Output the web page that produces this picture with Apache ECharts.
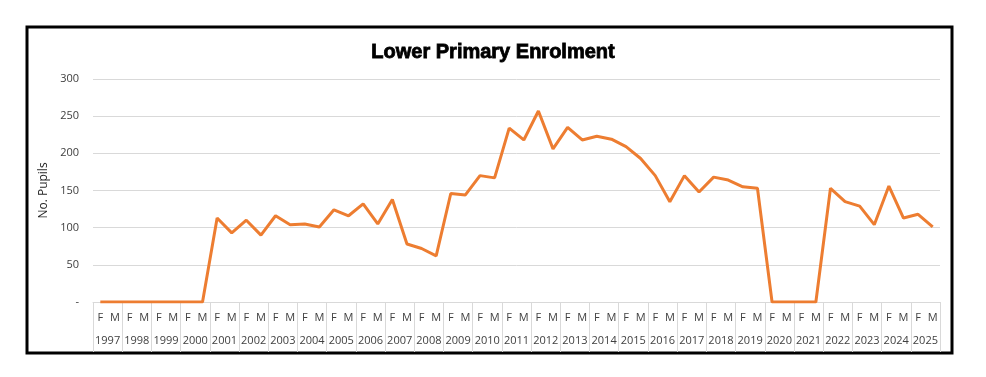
<!DOCTYPE html>
<html>
<head>
<meta charset="utf-8"/>
<title>Lower Primary Enrolment</title>
<script src="https://cdn.jsdelivr.net/npm/echarts@6/dist/echarts.min.js"></script>
<style>
  html, body { margin: 0; padding: 0; background: #fff; }
  #main { width: 986px; height: 377px; }
</style>
</head>
<body>
<div id="main"></div>
<script type="text/javascript">
// years, each split into F / M
var years = ['1997','1998','1999','2000','2001','2002','2003','2004','2005','2006',
             '2007','2008','2009','2010','2011','2012','2013','2014','2015','2016',
             '2017','2018','2019','2020','2021','2022','2023','2024','2025'];
var sexes = ['F', 'M'];
// pupils, in F,M order per year
var pupils = [0,0, 0,0, 0,0, 0,0, 113,93, 110,90, 116,104, 105,101, 124,116, 132,105,
              138,78, 72,62, 146,144, 170,167, 234,218, 257,206, 235,218, 223,219,
              209,193, 170,135, 170,148, 168,164, 155,153, 0,0, 0,0, 153,135,
              129,104, 156,113, 118,101];
var yTicks = [0, 50, 100, 150, 200, 250, 300];

var cats = [];
years.forEach(function (y) {
    sexes.forEach(function (s) { cats.push(s); });
});

var labelFont = { color: '#404040', fontSize: 11, fontFamily: 'Open Sans' };

var myChart = echarts.init(document.getElementById('main'));
var option = {
    animation: false,
    backgroundColor: '#fff',
    title: {
        text: 'Lower Primary Enrolment',
        left: 'center',
        top: 37,
        textStyle: {
            fontFamily: 'Liberation Sans', fontWeight: 'bold', fontSize: 20, color: '#000',
            textBorderColor: '#000', textBorderWidth: 0.8
        }
    },
    graphic: [{
        type: 'rect',
        shape: { x: 27, y: 27, width: 925, height: 326 },
        style: { fill: 'none', stroke: '#000', lineWidth: 3 },
        silent: true
    }],
    grid: { left: 93, right: 46, top: 79, bottom: 75 },
    xAxis: [{
        type: 'category',
        data: cats,
        boundaryGap: true,
        axisLine: { lineStyle: { color: '#d9d9d9' } },
        axisTick: { show: false },
        axisLabel: Object.assign({ interval: 0, margin: 10 }, labelFont)
    }, {
        type: 'category',
        data: years,
        position: 'bottom',
        boundaryGap: true,
        axisLine: { show: false },
        axisTick: { show: true, interval: 0, length: 50, lineStyle: { color: '#d9d9d9' } },
        axisLabel: Object.assign({ interval: 0, margin: 33 }, labelFont)
    }],
    yAxis: {
        type: 'value',
        min: yTicks[0],
        max: yTicks[yTicks.length - 1],
        interval: 50,
        name: 'No. Pupils',
        nameLocation: 'middle',
        nameGap: 41,
        nameRotate: 90,
        nameTextStyle: { color: '#262626', fontSize: 12, fontFamily: 'Open Sans' },
        axisLine: { show: false },
        axisTick: { show: false },
        splitLine: { lineStyle: { color: '#d9d9d9' } },
        axisLabel: Object.assign({
            margin: 14,
            formatter: function (v) { return v === 0 ? '-' : String(v); }
        }, labelFont)
    },
    series: [{
        name: 'Pupils',
        type: 'line',
        xAxisIndex: 0,
        data: pupils,
        symbol: 'none',
        lineStyle: { color: '#ED7D31', width: 3 },
        itemStyle: { color: '#ED7D31' }
    }]
};
myChart.setOption(option);
</script>
</body>
</html>
